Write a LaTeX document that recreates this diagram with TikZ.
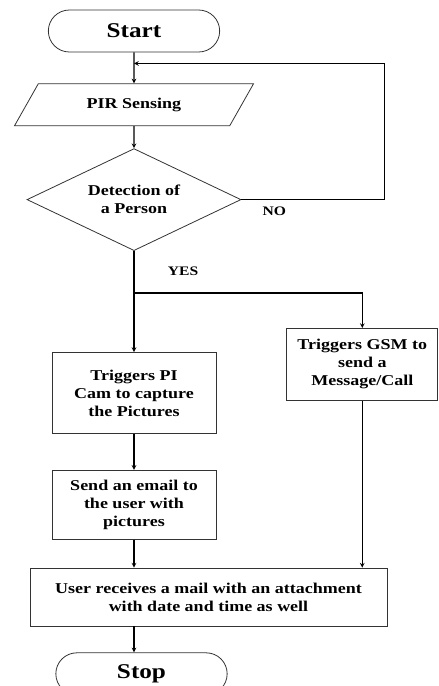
\documentclass[tikz,border=0pt]{standalone}
\usepackage{fontspec}
\setmainfont{Liberation Serif}[FakeStretch=1.2]
\usetikzlibrary{positioning,shapes.geometric,shapes.misc}

\begin{document}
\begin{tikzpicture}[
  x=1pt, y=1pt,
  txt/.style={font=\fontsize{15}{18}\selectfont\bfseries, align=center},
  term/.style={draw=black!80, thick, rounded rectangle, minimum width=178pt, minimum height=42pt,
               font=\fontsize{21}{24}\selectfont\bfseries},
  io/.style={draw=black!80, thick, trapezium, trapezium left angle=40.6, trapezium right angle=139.4,
             trapezium stretches body, minimum width=239pt, minimum height=42pt, txt},
  decision/.style={draw=black!80, thick, diamond, aspect=2.1, minimum width=214pt, minimum height=102pt,
                   inner sep=0pt, txt},
  box/.style 2 args={draw=black!80, thick, minimum width=#1, minimum height=#2, txt},
  lbl/.style={font=\fontsize{13}{15}\selectfont\bfseries},
  arr/.style={->, line width=1.1pt, >=stealth}
]
  \useasboundingbox (0,0) rectangle (439,-686);

  \node[term] (start) at (134,-31) {Start};
  \node[io, below=31pt of start] (pir) {PIR Sensing};
  \node[decision, below=22pt of pir] (detect) {Detection of\\a Person};
  \node[box={164pt}{81pt}, below=101pt of detect] (cam) {Triggers PI\\Cam to capture\\the Pictures};
  \node[box={151pt}{72pt}, right=70pt of cam, yshift=28.5pt] (gsm) {Triggers GSM to\\send a\\Message/Call};
  \node[box={164pt}{69pt}, below=36pt of cam] (mail) {Send an email to\\the user with\\pictures};
  \node[box={357pt}{58pt}, below=28pt of mail, xshift=74.5pt] (user)
    {User receives a mail with an attachment\\with date and time as well};
  \node[term, below=26pt of user, xshift=-67pt] (stop) {Stop};

  \coordinate (merge) at ([yshift=-11pt]start.south);
  \coordinate (split) at ([yshift=-42pt]detect.south);

  \draw[arr] (start) -- (pir);
  \draw[arr] (pir) -- (detect);
  \draw[arr] (detect.east) -- node[lbl, below, pos=0.23, yshift=-3pt] {NO} ++(143,0) |- (merge);
  \draw[arr] (detect) -- node[lbl, right, pos=0.2, xshift=30pt] {YES} (cam);
  \draw[arr] (split) -| (gsm.north);
  \draw[arr] (cam) -- (mail);
  \draw[arr] (mail) -- (mail |- user.north);
  \draw[arr] (gsm) -- (gsm |- user.north);
  \draw[arr] (user.south -| mail) -- (stop.north -| mail);
\end{tikzpicture}
\end{document}
